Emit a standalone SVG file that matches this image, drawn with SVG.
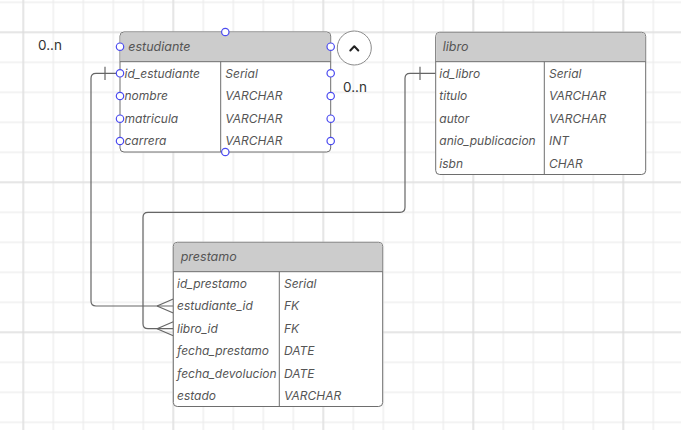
<svg xmlns="http://www.w3.org/2000/svg" width="681" height="430" viewBox="0 0 681 430">
<defs>
<pattern id="g1" patternUnits="userSpaceOnUse" x="8.3" y="-12.7" width="30" height="30"><path d="M15 0V30M0 15H30" stroke="#e8e8e8" stroke-width="1" fill="none"/></pattern>
<pattern id="g2" patternUnits="userSpaceOnUse" x="-51.7" y="-42.7" width="150" height="150"><path d="M75 0V150M0 75H150" stroke="#d9d9d9" stroke-width="1" fill="none"/></pattern>
</defs>
<style>
.tb{fill:#fff;stroke:#6e6e6e;stroke-width:1}
.hd{fill:#cccccc}
.ln{stroke:#6e6e6e;stroke-width:1;fill:none}
.ht{font-family:Inter,"Noto Sans",sans-serif;font-style:italic;font-size:12.5px;fill:#555}
.rt{font-family:Inter,"Noto Sans",sans-serif;font-style:italic;font-size:12px;fill:#555}
.lb{font-family:Inter,"Noto Sans",sans-serif;font-size:13.5px;fill:#333}
.cn{stroke:#666;stroke-width:1.2;fill:none}
.hp{fill:#fff;stroke:#4b4bf0;stroke-width:1.2}
</style>
<rect width="681" height="430" fill="#fff"/>
<rect width="681" height="430" fill="url(#g1)"/>
<rect width="681" height="430" fill="url(#g2)"/>

<g id="connectors">
<path class="cn" d="M120 73.3H96Q91 73.3 91 78.3V301Q91 306 96 306H173.3"/>
<path class="cn" d="M105 66.7V80"/>
<path class="cn" d="M157 306L173.3 299M157 306L173.3 313"/>
<path class="cn" d="M435.7 73.3H410Q405 73.3 405 78.3V207.3Q405 212.3 400 212.3H148Q143 212.3 143 217.3V323.7Q143 328.7 148 328.7H173.3"/>
<path class="cn" d="M420 66.7V80"/>
<path class="cn" d="M157 328.7L173.3 321.7M157 328.7L173.3 335.7"/>
</g>

<g id="estudiante">
<rect class="tb" x="120" y="32" width="210.7" height="120" rx="4"/>
<path class="hd" d="M124 32.5H326.7Q330.2 32.5 330.2 36V61.7H120.5V36Q120.5 32.5 124 32.5Z"/>
<path class="ln" d="M120 61.7H330.7M220.7 61.7V152"/>
<text class="ht" x="128.3" y="51.3">estudiante</text>
<text class="rt" x="124.5" y="77.6">id_estudiante</text>
<text class="rt" x="124.5" y="100.3">nombre</text>
<text class="rt" x="124.5" y="123">matricula</text>
<text class="rt" x="124.5" y="145.3">carrera</text>
<text class="rt" x="225.3" y="77.6">Serial</text>
<text class="rt" x="225.3" y="100.3">VARCHAR</text>
<text class="rt" x="225.3" y="123">VARCHAR</text>
<text class="rt" x="225.3" y="145.3">VARCHAR</text>
<circle class="hp" cx="225.3" cy="32" r="3.7"/>
<circle class="hp" cx="225.3" cy="152" r="3.7"/>
<circle class="hp" cx="120" cy="46.7" r="3.7"/>
<circle class="hp" cx="120" cy="73.3" r="3.7"/>
<circle class="hp" cx="120" cy="96" r="3.7"/>
<circle class="hp" cx="120" cy="118.7" r="3.7"/>
<circle class="hp" cx="120" cy="141" r="3.7"/>
<circle class="hp" cx="330.7" cy="46.7" r="3.7"/>
<circle class="hp" cx="330.7" cy="73.3" r="3.7"/>
<circle class="hp" cx="330.7" cy="96" r="3.7"/>
<circle class="hp" cx="330.7" cy="118.7" r="3.7"/>
<circle class="hp" cx="330.7" cy="141" r="3.7"/>
</g>

<g id="collapse">
<circle cx="354.3" cy="48" r="17" fill="#fff" stroke="#8a8a8a" stroke-width="1"/>
<path d="M350.3 50.5L354.3 46.3L358.3 50.5" fill="none" stroke="#222" stroke-width="2" stroke-linecap="round" stroke-linejoin="round"/>
</g>

<g id="labels">
<text class="lb" x="38" y="50">0..n</text>
<text class="lb" x="343" y="91.5">0..n</text>
</g>

<g id="libro">
<rect class="tb" x="435.7" y="32.3" width="210" height="142.2" rx="4"/>
<path class="hd" d="M439.7 32.8H641.7Q645.2 32.8 645.2 36.3V61.7H436.2V36.3Q436.2 32.8 439.7 32.8Z"/>
<path class="ln" d="M435.7 61.7H645.7M544.3 61.7V174.5"/>
<text class="ht" x="442.7" y="51.3">libro</text>
<text class="rt" x="439.3" y="77.6">id_libro</text>
<text class="rt" x="439.3" y="100.3">titulo</text>
<text class="rt" x="439.3" y="123">autor</text>
<text class="rt" x="439.3" y="145.3">anio_publicacion</text>
<text class="rt" x="439.3" y="167.6">isbn</text>
<text class="rt" x="549" y="77.6">Serial</text>
<text class="rt" x="549" y="100.3">VARCHAR</text>
<text class="rt" x="549" y="123">VARCHAR</text>
<text class="rt" x="549" y="145.3">INT</text>
<text class="rt" x="549" y="167.6">CHAR</text>
</g>

<g id="prestamo">
<rect class="tb" x="173.3" y="242.3" width="209.4" height="164.2" rx="4"/>
<path class="hd" d="M177.3 242.8H378.7Q382.2 242.8 382.2 246.3V271.7H173.8V246.3Q173.8 242.8 177.3 242.8Z"/>
<path class="ln" d="M173.3 271.7H382.7M279.3 271.7V406.5"/>
<text class="ht" x="180.7" y="261.3">prestamo</text>
<text class="rt" x="177" y="287.6">id_prestamo</text>
<text class="rt" x="177" y="310.3">estudiante_id</text>
<text class="rt" x="177" y="333">libro_id</text>
<text class="rt" x="177" y="355.3">fecha_prestamo</text>
<text class="rt" x="177" y="377.6">fecha_devolucion</text>
<text class="rt" x="177" y="400.3">estado</text>
<text class="rt" x="284" y="287.6">Serial</text>
<text class="rt" x="284" y="310.3">FK</text>
<text class="rt" x="284" y="333">FK</text>
<text class="rt" x="284" y="355.3">DATE</text>
<text class="rt" x="284" y="377.6">DATE</text>
<text class="rt" x="284" y="400.3">VARCHAR</text>
</g>
</svg>
